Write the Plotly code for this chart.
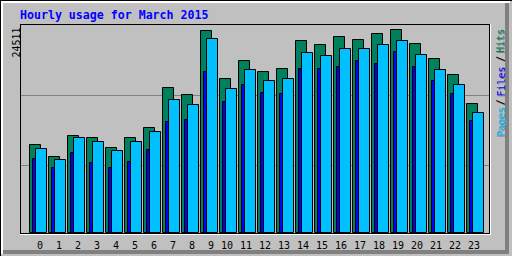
import plotly.graph_objects as go

# ---- data ----
hours = list(range(24))
hour_labels = [str(h) for h in hours]
hits = [10590, 9140, 11680, 11430, 10230, 11430, 12640, 17470, 16630, 24350, 18560, 20730,
        19400, 19770, 23150, 22660, 23630, 23270, 23990, 24511, 22780, 20970, 19040, 15540]
files = [8900, 7810, 9620, 8420, 7810, 8540, 9990, 13370, 13610, 19400, 15780, 17830,
         16870, 16750, 19770, 19770, 20010, 20730, 20370, 21820, 20010, 18320, 16750, 13490]
pages = [10110, 8780, 11430, 10950, 9860, 10950, 12160, 16020, 15420, 23390, 17350, 19650,
         18320, 18560, 21700, 21340, 22180, 22180, 22660, 23150, 21460, 19650, 17830, 14450]
title = "Hourly usage for March 2015"

# ---- style / layout geometry ----
W, H = 512, 256
L, R, T, B = 20, 491, 24, 235           # plot area in pixels
BG = "#C0C0C0"
HIT_C, FILE_C, PAGE_C = "#00805C", "#0000FF", "#00C0FF"
DK = "#808080"
MONO = "DejaVu Sans Mono"

def px(xp):
    return (xp - L) / (R - L)

def py(yp):
    return (B - yp) / (B - T)

M = max(hits)
k = 203.0 / M                      # pixels per unit
y_hi = (232.5 - T) / k
y_lo = -(B - 232.5) / k
step = 19.0
x_lo = -9.5 / step
x_hi = x_lo + (R - L) / step

fig = go.Figure()
bw = 11 / step
for vals, col, off, name in [(hits, HIT_C, 0, "Hits"), (files, FILE_C, 3 / step, "Files"),
                             (pages, PAGE_C, 6 / step, "Pages")]:
    fig.add_trace(go.Bar(x=hours, y=vals, offset=off, width=bw, name=name,
                         marker=dict(color=col, line=dict(color="black", width=1))))

shapes = []
# grid lines
for gy in (95.5, 165.5):
    shapes.append(dict(type="line", xref="paper", yref="paper", x0=px(21), x1=px(489),
                       y0=py(gy), y1=py(gy), line=dict(color=DK, width=1), layer="below"))
# plot frame
def hline(y, x0, x1, c):
    shapes.append(dict(type="line", xref="paper", yref="paper", x0=px(x0), x1=px(x1),
                       y0=py(y), y1=py(y), line=dict(color=c, width=1)))
def vline(x, y0, y1, c):
    shapes.append(dict(type="line", xref="paper", yref="paper", x0=px(x), x1=px(x),
                       y0=py(y0), y1=py(y1), line=dict(color=c, width=1)))
hline(24.5, 20, 490, "black")
vline(20.5, 24, 234, "black")
hline(233.5, 20, 490, "black")
vline(489.5, 24, 234, "black")
hline(234.5, 20, 491, "white")
vline(490.5, 24, 235, "white")
# outer bevel
hline(0.5, 0, 512, "black")
vline(0.5, 0, 256, "black")
for o in (1.5, 2.5):
    hline(o, 1, 510, "white")
    vline(o, 1, 254, "white")
shapes.append(dict(type="rect", xref="paper", yref="paper", x0=px(505), x1=px(509),
                   y0=py(3), y1=py(254), fillcolor=DK, line=dict(width=0)))
shapes.append(dict(type="rect", xref="paper", yref="paper", x0=px(3), x1=px(509),
                   y0=py(250), y1=py(254), fillcolor=DK, line=dict(width=0)))

ann = []
ann.append(dict(text=title, xref="paper", yref="paper", x=px(19), y=py(15.5),
                xanchor="left", yanchor="middle", showarrow=False, borderpad=0,
                font=dict(family=MONO, size=11.6, color="#0000FF", weight="bold")))
ann.append(dict(text=str(M), xref="paper", yref="paper", x=px(15.5), y=py(43),
                xanchor="center", yanchor="middle", textangle=-90, showarrow=False,
                borderpad=0, font=dict(family=MONO, size=10, color="black")))
for i, lab in zip(hours, hour_labels):
    ann.append(dict(text=lab, xref="x", yref="paper", x=i + 14.5 / step, y=py(245.5),
                    xanchor="right", yanchor="middle", showarrow=False, borderpad=0,
                    font=dict(family=MONO, size=10, color="black")))
legend_parts = [("Pages", PAGE_C, 122), ("/", "black", 102.7), ("Files", FILE_C, 82),
                ("/", "black", 59.3), ("Hits", HIT_C, 41.3)]
for dx, shadow in ((1, True), (0, False)):
    for txt, col, cy in legend_parts:
        ann.append(dict(text=txt, xref="paper", yref="paper", x=px(500.5 + dx), y=py(cy + dx),
                        xanchor="center", yanchor="middle", textangle=-90, showarrow=False,
                        borderpad=0,
                        font=dict(family=MONO, size=10, color=DK if shadow else col)))

fig.update_layout(
    width=W, height=H, autosize=False,
    margin=dict(l=L, r=W - R, t=T, b=H - B, pad=0),
    paper_bgcolor=BG, plot_bgcolor=BG,
    barmode="overlay", bargap=0, showlegend=False,
    xaxis=dict(range=[x_lo, x_hi], visible=False, fixedrange=True),
    yaxis=dict(range=[y_lo, y_hi], visible=False, fixedrange=True),
    shapes=shapes, annotations=ann,
)
fig.write_html("out.html", config={"displayModeBar": False})
